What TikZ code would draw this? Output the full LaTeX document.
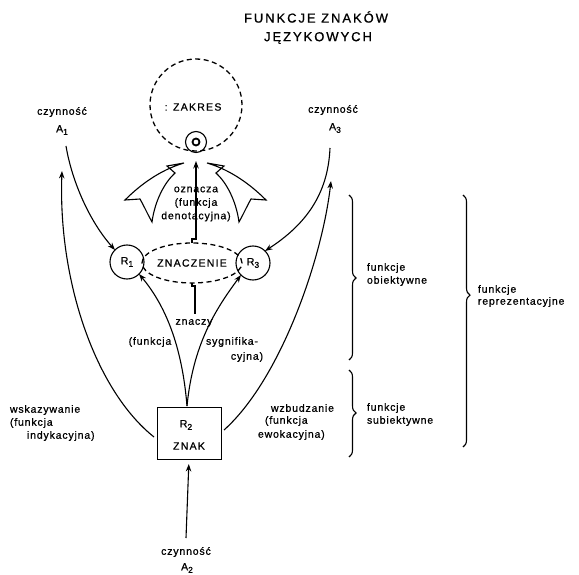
\documentclass[tikz,border=0pt]{standalone}
\usepackage{fontspec}
\setmainfont{Liberation Sans}
\newfontfamily\lab[LetterSpace=8,FakeBold=0.8]{Liberation Sans}
\newfontfamily\labc[LetterSpace=12,FakeBold=0.8]{Liberation Sans}
\newfontfamily\labt[LetterSpace=15,FakeBold=0.9]{Liberation Sans}
\usetikzlibrary{arrows.meta,decorations.pathreplacing,shapes.geometric}
\newcommand{\sbs}[1]{\raisebox{-2.5pt}{\fontsize{8.5}{8.5}\selectfont #1}}
\begin{document}
\begin{tikzpicture}[x=1pt,y=-1pt,
  every node/.style={inner sep=0pt, outer sep=0pt},
  txt/.style={font=\lab\fontsize{10.5}{13.5}\selectfont},
  ttl/.style={font=\labt\fontsize{13}{14}\selectfont},
  capt/.style={font=\labc\fontsize{10.5}{12}\selectfont},
  con/.style={line width=1.1pt},
  arr/.style={con, -{Stealth[length=7.5pt,width=5.5pt]}},
  dsh/.style={line width=1.3pt, dash pattern=on 5pt off 3.5pt},
  fat/.style={line width=1.1pt, fill=white, line join=miter},
  brc/.style={line width=1.1pt, decorate, decoration={brace, amplitude=7pt, aspect=#1}},
]
\useasboundingbox (0,0) rectangle (579,575);

% title
\node[ttl] (t1) at (316,17) {FUNKCJE ZNAKÓW};
\node[ttl] (t2) at (318,38) {JĘZYKOWYCH};

% zakres
\node[dsh, draw, circle, minimum size=92pt] (zakres) at (196,105) {};
\node[capt] (zakrest) at (193,107) {: ZAKRES};
\node[circle, draw, line width=1.1pt, minimum size=21pt] (dot) at (196,142) {};
\node[circle, draw, line width=1.8pt, minimum size=7pt] (dotin) at (196,142) {};

% znaczenie, R1, R3
\node[ellipse, draw, dsh, minimum width=100pt, minimum height=40pt] (zn) at (192,263) {};
\node[capt] (znt) at (192,263) {ZNACZENIE};
\node[circle, draw, con, minimum size=34pt, capt] (r1) at (127,262) {R\sbs{1}};
\node[circle, draw, con, minimum size=34pt, capt] (r3) at (253,263) {R\sbs{3}};

% znak box
\node[draw, line width=0.9pt, minimum width=64pt, minimum height=52pt] (znak) at (189,433) {};
\node[capt] (r2) at (186,425) {R\sbs{2}};
\node[capt] (znakt) at (189,446) {ZNAK};

% czynnosc labels
\node[txt] (c1) at (62,112) {czynność};
\node[capt] (a1) at (62,130) {A\sbs{1}};
\node[txt] (c3) at (333,110) {czynność};
\node[capt] (a3) at (335,128) {A\sbs{3}};
\node[txt] (c2) at (186,552) {czynność};
\node[capt] (a2) at (187,568) {A\sbs{2}};

% coordinates
\coordinate (a1s) at (66,146);
\coordinate (a1e) at (62,171);
\coordinate (a3s) at (330,148);
\coordinate (a3e) at (331,181);
\coordinate (a2s) at (186,538);
\coordinate (ls) at (154,437);
\coordinate (rs) at (224,430);
\coordinate (bt) at (187,406);
\coordinate (oz) at (196,161);
\coordinate (zy) at (195,314);

% connectors
\draw[arr] (a1s) .. controls (72,182) and (90,222) .. (r1.135);
\draw[arr] (a3s) .. controls (328,195) and (305,225) .. (r3.45);
\draw[arr] (ls) .. controls (95,390) and (58,280) .. (a1e);
\draw[arr] (rs) .. controls (280,380) and (322,260) .. (a3e);
\draw[arr, shorten >=5pt] (a2s) -- (znak.south);
\draw[arr] (bt) .. controls (182,345) and (165,305) .. (r1.-45);
\draw[arr] (bt) .. controls (193,345) and (215,310) .. (r3.-135);
\draw[arr] (zn.north) -- ++(0,-4) -| (oz);
\draw[con] (zn.south) -- ++(0,3) -| (zy);

% fat arrows
\draw[fat] (184,163) .. controls (160,170) and (140,185) .. (125,200) -- (140,199)
  .. controls (145,208) and (148,215) .. (152,222)
  .. controls (155,200) and (165,182) .. (175,173) -- (167,166) -- cycle;
\draw[fat] (207,163) .. controls (231,170) and (251,185) .. (266,200) -- (251,199)
  .. controls (246,208) and (243,215) .. (239,222)
  .. controls (236,200) and (226,182) .. (216,173) -- (224,166) -- cycle;

% labels
\node[txt, align=center] (ozn) at (196,204) {oznacza\\(funkcja\\denotacyjna)};
\node[txt] (zny) at (194,323) {znaczy};
\node[txt] (fk1) at (150,342) {(funkcja};
\node[txt] (syg1) at (232,342) {sygnifika-};
\node[txt] (syg2) at (247,357) {cyjna)};

\node[txt, anchor=west] (w1) at (10,410) {wskazywanie};
\node[txt, anchor=west] (w2) at (10,423) {(funkcja};
\node[txt, anchor=west] (w3) at (27,436) {indykacyjna)};
\node[txt, anchor=west] (e1) at (271,408) {wzbudzanie};
\node[txt, anchor=west] (e2) at (265,421) {(funkcja};
\node[txt, anchor=west] (e3) at (258,435) {ewokacyjna)};

% braces
\draw[brc=0.503] (349,195) -- (349,360);
\draw[brc=0.494] (349,370) -- (349,457);
\draw[brc=0.397] (463,195) -- (463,447);
\node[txt, anchor=west] (b1a) at (367,268) {funkcje};
\node[txt, anchor=west] (b1b) at (367,281) {obiektywne};
\node[txt, anchor=west] (b2a) at (367,408) {funkcje};
\node[txt, anchor=west] (b2b) at (367,421) {subiektywne};
\node[txt, anchor=west] (b3a) at (478,290) {funkcje};
\node[txt, anchor=west] (b3b) at (478,302) {reprezentacyjne};
\end{tikzpicture}
\end{document}
